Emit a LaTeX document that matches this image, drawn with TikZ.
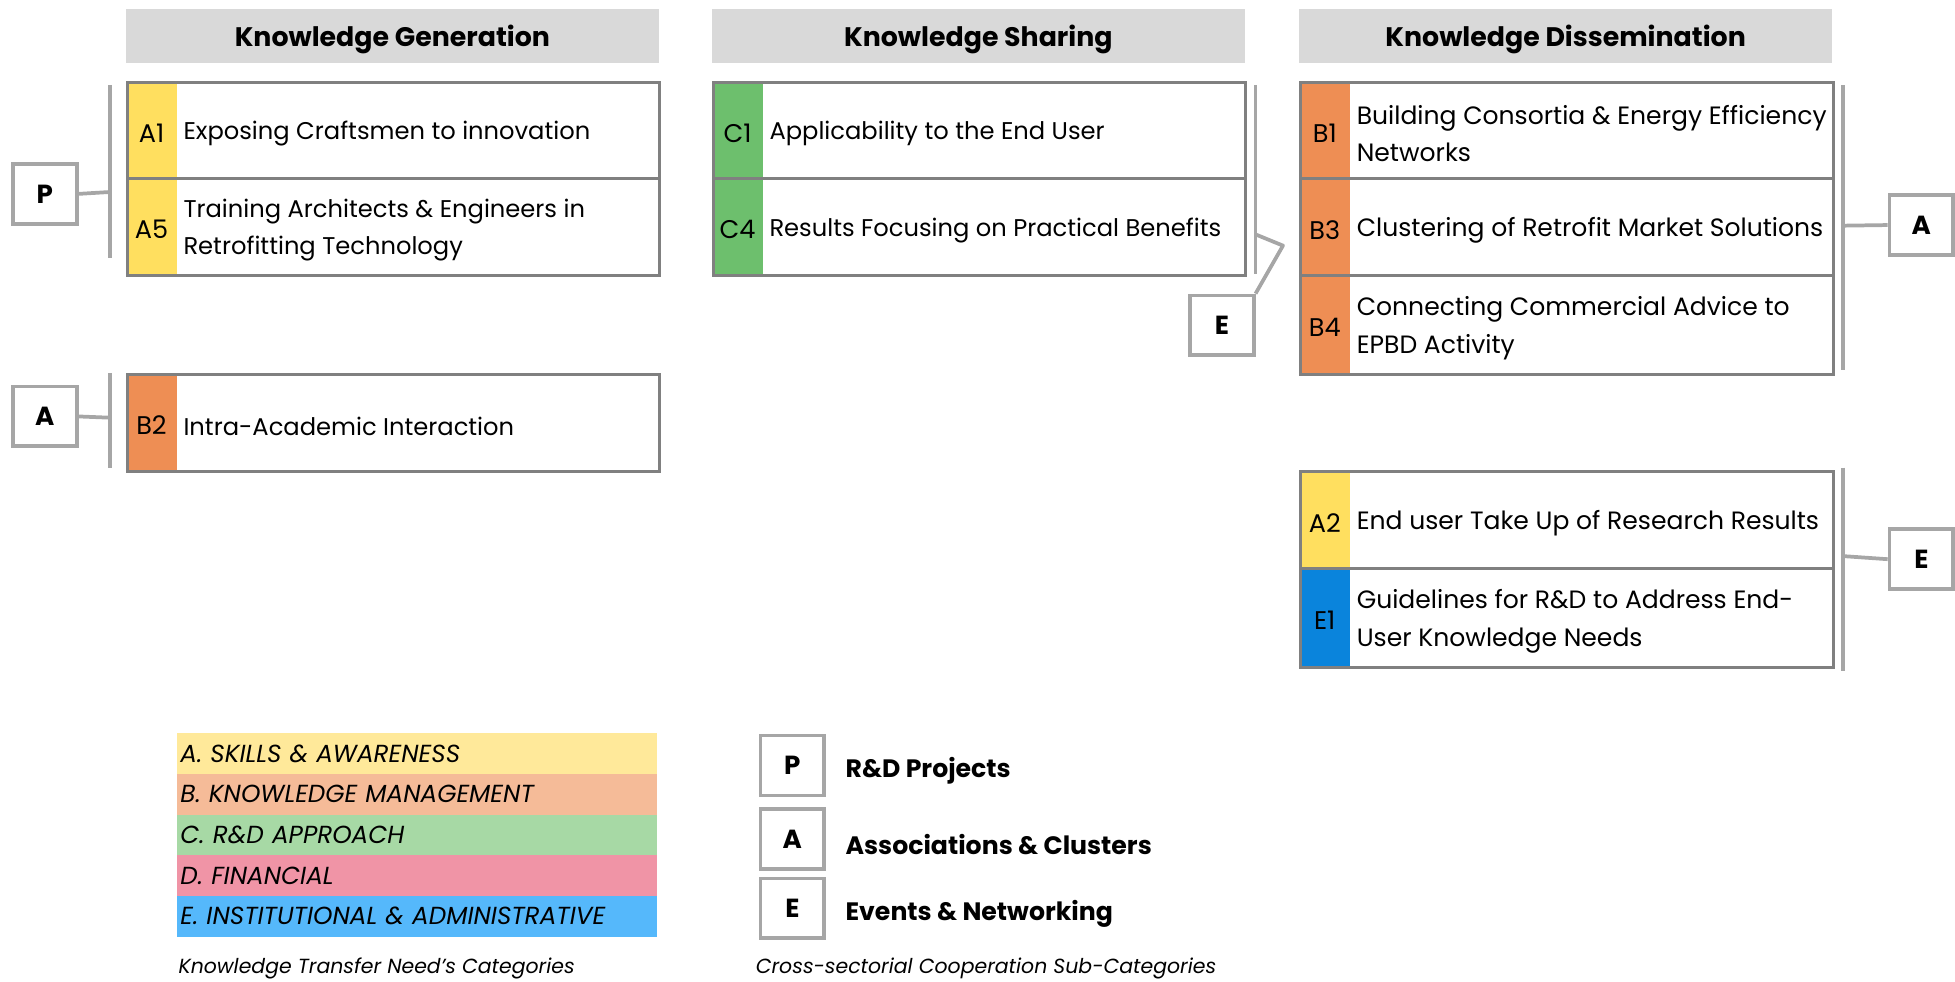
\documentclass[tikz,border=0pt]{standalone}
\usepackage{fontspec}
\setmainfont{Poppins}
\usetikzlibrary{calc}
\definecolor{hdrgray}{HTML}{D9D9D9}
\definecolor{boxgray}{HTML}{808080}
\definecolor{taggray}{HTML}{A6A6A6}
\definecolor{linegray}{HTML}{A6A6A6}
\definecolor{cA}{HTML}{FFDF5F}
\definecolor{cB}{HTML}{EE8E54}
\definecolor{cC}{HTML}{6DBF6D}
\definecolor{cE}{HTML}{0A84DC}
\definecolor{lA}{HTML}{FFE99A}
\definecolor{lB}{HTML}{F5BB98}
\definecolor{lC}{HTML}{A7D9A5}
\definecolor{lD}{HTML}{F094A6}
\definecolor{lE}{HTML}{55B8FB}
% font of the row texts (set per column)
\newcommand\rowfont{\fontsize{19.4}{30}\selectfont}
% one coloured row: name, left x, top y, bottom y, colour, code, text
\newcommand\kitem[7]{%
  \fill[#5] (#2,#3) rectangle (#2+41,#4);
  \node[rowbox, minimum height={(#4)-(#3)}] (#1) at (#2,#3) {};
  \node[code] (#1-code) at ($(#1.west)+(20.5,2)$) {#6};
  \node[rowtext] (#1-text) at ($(#1.west)+(46,2.5)$) {#7};
}
\begin{document}
\begin{tikzpicture}[x=1pt,y=-1pt,
  hdr/.style={fill=hdrgray, minimum width=427pt, minimum height=43pt, anchor=north west,
    inner sep=0pt, text depth=0pt, font=\fontsize{21.5}{26}\selectfont\bfseries},
  rowbox/.style={draw=boxgray, line width=2.4pt, minimum width=427pt, anchor=north west, inner sep=0pt},
  code/.style={font=\fontsize{20.5}{24}\selectfont, inner sep=0pt},
  rowtext/.style={anchor=west, align=left, inner sep=0pt, font=\rowfont},
  tag/.style={draw=taggray, line width=3pt, fill=white, minimum width=51pt, minimum height=48pt,
    inner sep=0pt, font=\fontsize{21}{25}\selectfont\bfseries},
  brace/.style={draw=linegray, line width=3pt},
  link/.style={draw=linegray, line width=3pt},
  legbar/.style={minimum width=385pt, minimum height=32.6pt, anchor=north west, inner sep=0pt,
    text width=380pt, align=left, font=\fontsize{19.8}{22}\selectfont\itshape},
  legtext/.style={anchor=west, inner sep=0pt, font=\fontsize{20.2}{24}\selectfont\bfseries},
  caption/.style={anchor=west, inner sep=0pt, font=\fontsize{16.4}{19}\selectfont\itshape}
]
\useasboundingbox (0,0) rectangle (1568,787);

% column headers
\node[hdr] (hgen) at (101,7) {Knowledge Generation};
\node[hdr] (hshare) at (571,7) {Knowledge Sharing};
\node[hdr] (hdiss) at (1042,7) {Knowledge Dissemination};

% Knowledge Generation
\kitem{a1}{101}{65}{142}{cA}{A1}{Exposing Craftsmen to innovation}
\kitem{a5}{101}{142}{220}{cA}{A5}{Training Architects \& Engineers in\\Retrofitting Technology}
\kitem{b2}{101}{299}{377}{cB}{B2}{Intra-Academic Interaction}

% Knowledge Sharing
\kitem{c1}{571}{65}{142}{cC}{C1}{Applicability to the End User}
\kitem{c4}{571}{142}{220}{cC}{C4}{Results Focusing on Practical Benefits}

% Knowledge Dissemination
\renewcommand\rowfont{\fontsize{20.1}{30}\selectfont}
\kitem{b1}{1042}{65}{142}{cB}{B1}{Building Consortia \& Energy Efficiency\\Networks}
\kitem{b3}{1042}{142}{220}{cB}{B3}{Clustering of Retrofit Market Solutions}
\kitem{b4}{1042}{220}{299}{cB}{B4}{Connecting Commercial Advice to\\EPBD Activity}
\kitem{a2}{1042}{377}{455}{cA}{A2}{End user Take Up of Research Results}
\kitem{e1}{1042}{455}{534}{cE}{E1}{Guidelines for R\&D to Address End-\\User Knowledge Needs}

% bracket lines
\coordinate (gp1) at (88,68);   \coordinate (gp2) at (88,207);  \coordinate (gpm) at (88,154);
\coordinate (ga1) at (88,299);  \coordinate (ga2) at (88,375);  \coordinate (gam) at (88,335);
\coordinate (se1) at (1007,68); \coordinate (se2) at (1007,220); \coordinate (sem) at (1007,188);
\coordinate (sek) at (1029,197);
\coordinate (da1) at (1478,68); \coordinate (da2) at (1478,297); \coordinate (dam) at (1478,181);
\coordinate (de1) at (1478,375); \coordinate (de2) at (1478,538); \coordinate (dem) at (1478,446);
\draw[brace] (gp1) -- (gp2);
\draw[brace] (ga1) -- (ga2);
\draw[brace] (se1) -- (se2);
\draw[brace] (da1) -- (da2);
\draw[brace] (de1) -- (de2);

% cooperation tags
\node[tag] (tp) at (36,155.5) {P};
\node[tag] (tal) at (36,334) {A};
\node[tag] (tes) at (980,261) {E};
\node[tag] (tar) at (1541,180.5) {A};
\node[tag] (ter) at (1541,448.5) {E};

\draw[link] (tp.east) -- (gpm);
\draw[link] (tal.east) -- (gam);
\draw[link, line join=round] (sem) -- (sek) -- (tes.north east);
\draw[link] (tar.west) -- (dam);
\draw[link] (ter.west) -- (dem);

% legend: need categories
\node[legbar, fill=lA] (la) at (142,588) {A. SKILLS \& AWARENESS};
\node[legbar, fill=lB] (lb) at (142,620.6) {B. KNOWLEDGE MANAGEMENT};
\node[legbar, fill=lC] (lc) at (142,653.2) {C. R\&D APPROACH};
\node[legbar, fill=lD] (ld) at (142,685.8) {D. FINANCIAL};
\node[legbar, fill=lE] (le) at (142,718.4) {E. INSTITUTIONAL \& ADMINISTRATIVE};
\node[caption] (cap1) at (143,777) {Knowledge Transfer Need’s Categories};

% legend: cooperation sub-categories
\node[tag] (kp) at (635.5,614) {P};
\node[tag] (ka) at (635.5,673) {A};
\node[tag] (ke) at (635.5,728.5) {E};
\node[legtext] (kpt) at (678,618) {R\&D Projects};
\node[legtext] (kat) at (678,677) {Associations \& Clusters};
\node[legtext] (ket) at (678,733) {Events \& Networking};
\node[caption] (cap2) at (606,777) {Cross-sectorial Cooperation Sub-Categories};
\end{tikzpicture}
\end{document}
